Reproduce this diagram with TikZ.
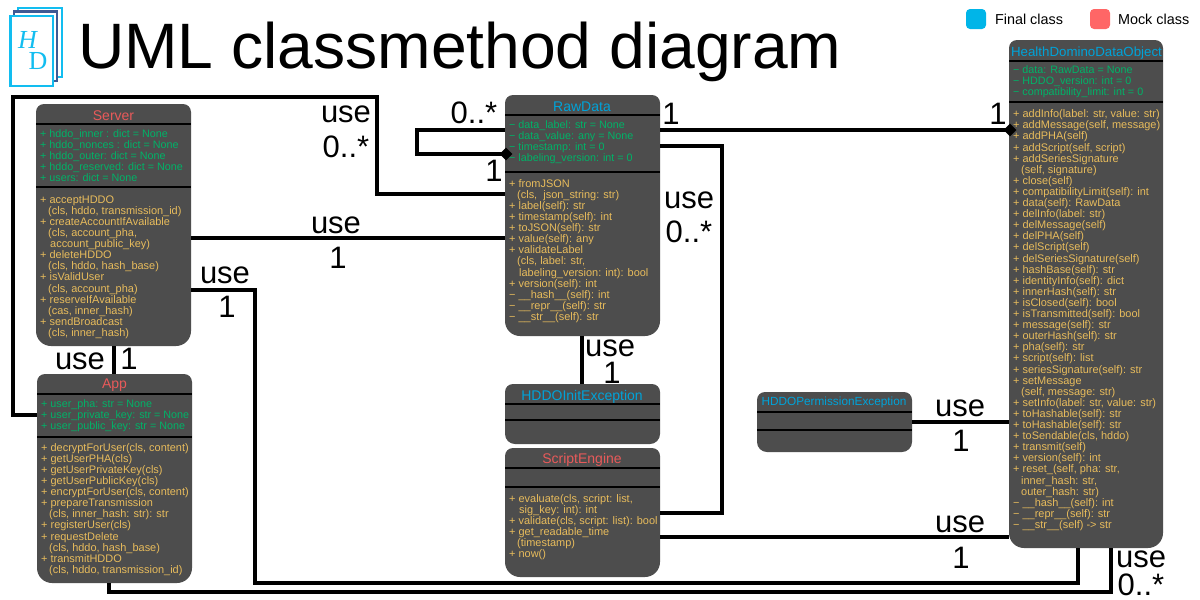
\documentclass[tikz,border=0pt]{standalone}
\usepackage{fontspec}
\setmainfont{Liberation Sans}
\newfontfamily\logofont{Liberation Serif}
\usetikzlibrary{shapes.geometric}
\definecolor{boxgrey}{HTML}{4D4D4D}
\definecolor{tblue}{HTML}{00A3D9}
\definecolor{tred}{HTML}{E85A5A}
\definecolor{tgreen}{HTML}{00B368}
\definecolor{tyell}{HTML}{E8BC5C}
\definecolor{logoblue}{HTML}{12BDF0}
\definecolor{logodark}{HTML}{3F5A94}
\definecolor{legblue}{HTML}{00B5E8}
\definecolor{legred}{HTML}{FF6666}
\tikzset{
  x=1pt,y=-1pt,
  holder/.style={inner sep=0pt,outer sep=0pt,draw=none,fill=none},
  conn/.style={draw=black,line width=4pt,line cap=butt,line join=miter},
  seprule/.style={draw=black,line width=1.6pt},
  rel/.style={inner sep=0pt,font=\fontsize{31}{31}\selectfont},
  ttl/.style={inner sep=0pt,anchor=base,font=\fontsize{14}{14}\selectfont},
  txt/.style={inner sep=0pt,anchor=north west,align=left,font=\fontsize{10.95}{11.1}\selectfont},
  atxt/.style={inner sep=0pt,anchor=north west,align=left,font=\fontsize{10.75}{11.1}\selectfont},
  dia/.style={diamond,fill=black,inner sep=0pt,minimum width=13pt,minimum height=13pt},
}
\newcommand{\umlbox}[8][15pt]{%
  \node[holder,minimum width={(#4-#2)*1pt},minimum height={(#5-#3)*1pt}] (#8) at ({(#2+#4)/2},{(#3+#5)/2}) {};
  \fill[boxgrey,rounded corners=8pt] (#2,{(#3+#5)/2}) -- (#2,#3) -- (#4,#3) -- (#4,{(#3+#5)/2}) [rounded corners=#1] -- (#4,#5) -- (#2,#5) -- cycle;
  \draw[seprule] (#2,#6) -- (#4,#6);
  \draw[seprule] (#2,#7) -- (#4,#7);
}
\newcommand{\tblock}[5]{\node[txt,text=#4] (#1) at (#2,{#3-9}) {\rule{0pt}{9pt}#5};}
\newcommand{\ablock}[4]{\node[atxt,text=tgreen] (#1) at (#2,{#3-9}) {\rule{0pt}{9pt}#4};}
\newcommand{\us}{\_}
\begin{document}
\begin{tikzpicture}
\useasboundingbox (0,0) rectangle (1200,600);
\fill[white] (0,0) rectangle (1200,600);

% logo
\draw[logoblue,line width=2pt] (18,11) -- (18,7.5) -- (61.5,7.5) -- (61.5,77) -- (57,77);
\draw[logodark,line width=2.4pt] (14,15) -- (14,11.5) -- (57,11.5) -- (57,81) -- (53,81);
\draw[logoblue,line width=2.4pt] (10.5,16) rectangle (53,86);
\node[holder,text=logoblue,font=\logofont\itshape\fontsize{26}{26}\selectfont] (logoH) at (27.5,40) {H};
\node[holder,text=logoblue,font=\logofont\fontsize{26}{26}\selectfont] (logoD) at (38,61.5) {D};
\fill[logoblue] (33.5,53.5) circle (1.2pt);

% title
\node[holder,anchor=base west,font=\fontsize{64.2}{64}\selectfont] (title) at (78,68) {UML classmethod diagram};

% legend
\fill[legblue,rounded corners=4pt] (966,9) rectangle (986,29);
\fill[legred,rounded corners=4pt] (1090,9) rectangle (1110,29);
\node[holder,anchor=base west,font=\fontsize{14.4}{14}\selectfont] (legA) at (995,24) {Final class};
\node[holder,anchor=base west,font=\fontsize{14.4}{14}\selectfont] (legB) at (1118,24) {Mock class};

% boxes
\umlbox{36}{104}{191}{346}{124}{187}{Server}
\umlbox{37}{374}{192}{583}{394}{437}{App}
\umlbox{505}{95}{660}{336}{115}{172}{RawData}
\umlbox[10pt]{505}{384}{660}{444}{404}{420}{Init}
\umlbox{505}{448}{660}{577}{468}{487}{Script}
\umlbox{1009}{40}{1163}{548}{61}{102}{HDDO}
\umlbox[10pt]{757}{392}{912}{452}{412}{430}{Perm}

% titles
\node[ttl,text=tred] (tServer) at (113.5,120) {Server};
\node[ttl,text=tred] (tApp) at (114.5,388.5) {App};
\node[ttl,text=tblue] (tRaw) at (582,111) {RawData};
\node[ttl,text=tblue] (tInit) at (582,400.5) {HDDOInitException};
\node[ttl,text=tred] (tScript) at (582,463) {ScriptEngine};
\node[ttl,text=tblue,font=\fontsize{13.3}{14}\selectfont] (tHDDO) at (1086.5,56) {HealthDominoDataObject};
\node[ttl,text=tblue,font=\fontsize{11.8}{12}\selectfont] (tPerm) at (834,405) {HDDOPermissionException};

% text
\ablock{sA}{40}{137}{+ hddo\us inner : dict = None\\+ hddo\us nonces : dict = None\\+ hddo\us outer: dict = None\\+ hddo\us reserved: dict = None\\+ users: dict = None}
\tblock{sM}{40}{203}{tyell}{+ acceptHDDO\\\hspace*{8pt}(cls, hddo, transmission\us id)\\+ createAccountIfAvailable\\\hspace*{8pt}(cls, account\us pha,\\\hspace*{10pt}account\us public\us key)\\+ deleteHDDO\\\hspace*{8pt}(cls, hddo, hash\us base)\\+ isValidUser\\\hspace*{8pt}(cls, account\us pha)\\+ reserveIfAvailable\\\hspace*{8pt}(cas, inner\us hash)\\+ sendBroadcast\\\hspace*{8pt}(cls, inner\us hash)}
\ablock{aA}{41}{407}{+ user\us pha: str = None\\+ user\us private\us key: str = None\\+ user\us public\us key: str = None}
\tblock{aM}{41}{451}{tyell}{+ decryptForUser(cls, content)\\+ getUserPHA(cls)\\+ getUserPrivateKey(cls)\\+ getUserPublicKey(cls)\\+ encryptForUser(cls, content)\\+ prepareTransmission\\\hspace*{8pt}(cls, inner\us hash: str): str\\+ registerUser(cls)\\+ requestDelete\\\hspace*{8pt}(cls, hddo, hash\us base)\\+ transmitHDDO\\\hspace*{8pt}(cls, hddo, transmission\us id)}
\ablock{rA}{509}{128}{− data\us label: str = None\\− data\us value: any = None\\− timestamp: int = 0\\− labeling\us version: int = 0}
\tblock{rM}{509}{187}{tyell}{+ fromJSON\\\hspace*{8pt}(cls,\ \ json\us string: str)\\+ label(self): str\\+ timestamp(self): int\\+ toJSON(self): str\\+ value(self): any\\+ validateLabel\\\hspace*{8pt}(cls, label: str,\\\hspace*{10pt}labeling\us version: int): bool\\+ version(self): int\\− \us\us hash\us\us(self): int\\− \us\us repr\us\us(self): str\\− \us\us str\us\us(self): str}
\tblock{eM}{509}{502}{tyell}{+ evaluate(cls, script: list,\\\hspace*{10pt}sig\us key: int): int\\+ validate(cls, script: list): bool\\+ get\us readable\us time\\\hspace*{8pt}(timestamp)\\+ now()}
\ablock{hA}{1013}{73}{− data: RawData = None\\− HDDO\us version: int = 0\\− compatibility\us limit: int = 0}
\tblock{hM}{1013}{117.5}{tyell}{+ addInfo(label: str, value: str)\\+ addMessage(self, message)\\+ addPHA(self)\\+ addScript(self, script)\\+ addSeriesSignature\\\hspace*{8pt}(self, signature)\\+ close(self)\\+ compatibilityLimit(self): int\\+ data(self): RawData\\+ delInfo(label: str)\\+ delMessage(self)\\+ delPHA(self)\\+ delScript(self)\\+ delSeriesSignature(self)\\+ hashBase(self): str\\+ identityInfo(self): dict\\+ innerHash(self): str\\+ isClosed(self): bool\\+ isTransmitted(self): bool\\+ message(self): str\\+ outerHash(self): str\\+ pha(self): str\\+ script(self): list\\+ seriesSignature(self): str\\+ setMessage\\\hspace*{8pt}(self, message: str)\\+ setInfo(label: str, value: str)\\+ toHashable(self): str\\+ toHashable(self): str\\+ toSendable(cls, hddo)\\+ transmit(self)\\+ version(self): int\\+ reset\us(self, pha: str,\\\hspace*{8pt}inner\us hash: str,\\\hspace*{8pt}outer\us hash: str)\\− \us\us hash\us\us(self): int\\− \us\us repr\us\us(self): str\\− \us\us str\us\us(self) -> str}

% connectors
\draw[conn] (App.west |- 0,415) -- (13,415) -- (13,97) -- (377,97) -- (377,193.5) -- (RawData.west |- 0,193.5);
\draw[conn] (Server.east |- 0,238) -- (RawData.west |- 0,238);
\draw[conn] (Server.east |- 0,290) -- (255,290) -- (255,583) -- (1078,583) -- (1078,548) -- (HDDO.south -| 1078,0);
\draw[conn] (Server.south -| 113.5,0) -- (App.north -| 113.5,0);
\node[dia] (d1) at (506,154) {};
\draw[conn] (RawData.west |- 0,130) -- (417,130) -- (417,154) -- (d1.center);
\node[dia] (d2) at (1010,130) {};
\draw[conn] (RawData.east |- 0,130) -- (d2.center);
\draw[conn] (RawData.east |- 0,146) -- (722,146) -- (722,513) -- (Script.east |- 0,513);
\draw[conn] (Script.east |- 0,537) -- (HDDO.west |- 0,537);
\draw[conn] (Perm.east |- 0,422) -- (HDDO.west |- 0,422);
\draw[conn] (RawData.south -| 582,0) -- (Init.north -| 582,0);
\draw[conn] (App.south -| 109,0) -- (109,592) -- (1111,592) -- (HDDO.south -| 1111,0);

% labels
\node[rel] (l1) at (346,114) {use};
\node[rel] (l2) at (346,147) {0..*};
\node[rel] (l3) at (474,113) {0..*};
\node[rel] (l4) at (494,171) {1};
\node[rel] (l5) at (671,114) {1};
\node[rel] (l6) at (998,114) {1};
\node[rel] (l7) at (689,200) {use};
\node[rel] (l8) at (689,232) {0..*};
\node[rel] (l9) at (336,225) {use};
\node[rel] (l10) at (338,258) {1};
\node[rel] (l11) at (225,275) {use};
\node[rel] (l12) at (227,307) {1};
\node[rel] (l13) at (80,361) {use};
\node[rel] (l14) at (129,359) {1};
\node[rel] (l15) at (610,348.5) {use};
\node[rel] (l16) at (612,373) {1};
\node[rel] (l17) at (960,408) {use};
\node[rel] (l18) at (961,441) {1};
\node[rel] (l19) at (960,524) {use};
\node[rel] (l20) at (961,558) {1};
\node[rel] (l21) at (1141,559) {use};
\node[rel] (l22) at (1141,585) {0..*};
\end{tikzpicture}
\end{document}
